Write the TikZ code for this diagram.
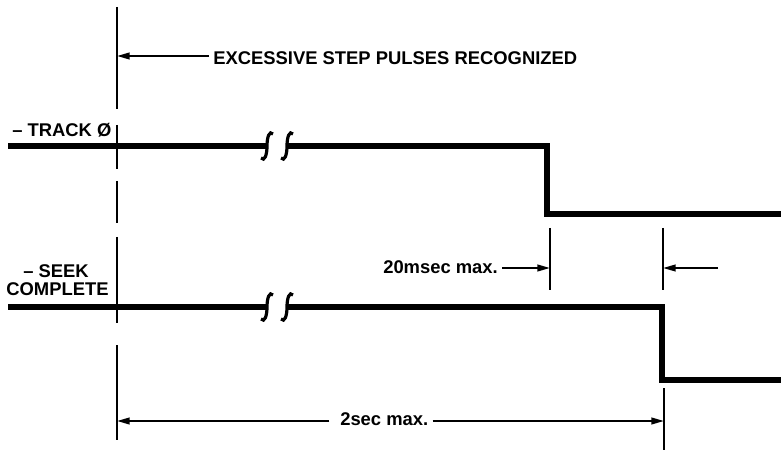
\documentclass[tikz,border=0pt]{standalone}
\usepackage{fontspec}
\setmainfont{Liberation Sans}
\usetikzlibrary{arrows.meta}
\begin{document}
\begin{tikzpicture}[x=0.75pt,y=-0.75pt,
  sig/.style={line width=4.5pt,line join=miter},
  tick/.style={line width=1.9pt},
  arr/.style={line width=1.5pt,-{Triangle[length=9.5pt,width=5pt]}},
  lbl/.style={inner sep=0pt,font=\fontsize{13.8}{16}\selectfont\bfseries},
  brk/.style={line width=2.4pt},
  brkmark/.pic={\draw[brk] (6,-12) .. controls (2.5,-16) and (0,-9) .. (0,0) .. controls (0,9) and (-2.5,16) .. (-6,12);}]
\useasboundingbox (0,0) rectangle (781,452);
% reference line (broken)
\foreach \a/\b in {7/109,125/169,181/223,237/323,345/440}
  \draw[tick] (117,\a) -- (117,\b);
% timing ticks
\coordinate (m1t) at (550,228); \coordinate (m1b) at (550,290);
\coordinate (m2t) at (663,228); \coordinate (m2b) at (663,290);
\coordinate (s2t) at (664,388); \coordinate (s2b) at (664,450);
\draw[tick] (m1t) -- (m1b);
\draw[tick] (m2t) -- (m2b);
\draw[tick] (s2t) -- (s2b);
% signals
\draw[sig] (8,146) -- (267,146);
\draw[sig] (287,146) -- (547,146) -- (547,214) -- (781,214);
\pic at (267,146) {brkmark};
\pic at (287,146) {brkmark};
\draw[sig] (8,307) -- (267,307);
\draw[sig] (287,307) -- (662,307) -- (662,380) -- (781,380);
\pic at (267,307) {brkmark};
\pic at (287,307) {brkmark};
% labels
\node[lbl,anchor=base west] (exc) at (213,65) {EXCESSIVE STEP PULSES RECOGNIZED};
\node[lbl,anchor=base west] (trk) at (12,137) {– TRACK Ø};
\node[lbl,anchor=base] (seek) at (56,277) {– SEEK};
\node[lbl,anchor=base] (cmp) at (57.5,295) {COMPLETE};
\node[lbl,anchor=base west] (ms) at (383,273) {20msec max.};
\node[lbl,anchor=base west] (sec) at (340,425) {2sec max.};
% arrows
\coordinate (excTip) at (117,56);
\draw[arr] ([xshift=-3pt]exc.west |- excTip) -- (excTip);
\coordinate (msTip) at (550,268);
\draw[arr] ([xshift=3pt]ms.east |- msTip) -- (msTip);
\coordinate (msTail) at (718,268);
\coordinate (msTip2) at (663,268);
\draw[arr] (msTail) -- (msTip2);
\coordinate (secTipL) at (117,421);
\coordinate (secTipR) at (664,421);
\draw[arr] ([xshift=-8pt]sec.west |- secTipL) -- (secTipL);
\draw[arr] ([xshift=3pt]sec.east |- secTipR) -- (secTipR);
\end{tikzpicture}
\end{document}
